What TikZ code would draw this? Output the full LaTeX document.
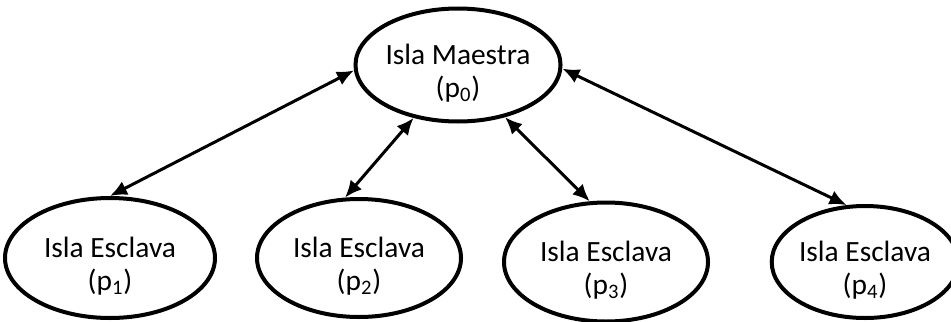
\documentclass[tikz,border=0pt]{standalone}
\usepackage{fontspec}
\setmainfont{Carlito}
\usetikzlibrary{shapes.geometric,arrows.meta}
\tikzset{
	isla/.style={ellipse, draw, line width=2pt, inner sep=0pt, align=center, text height=35pt,
		font=\fontsize{14.7}{16.5}\selectfont},
	enlace/.style={{Latex[length=8.5pt,width=7.5pt]}-{Latex[length=8.5pt,width=7.5pt]}, line width=1.5pt}
}
\begin{document}
\begin{tikzpicture}[x=0.5pt, y=-0.5pt]
	\useasboundingbox (0,0) rectangle (951,321);
	% maestra
	\node[isla, minimum width=102pt, minimum height=56.5pt] (p0) at (458,65) {Isla Maestra\\(p\textsubscript{0})};
	% esclavas
	\node[isla, minimum width=105pt, minimum height=60pt] (p1) at (110,258) {Isla Esclava\\(p\textsubscript{1})};
	\node[isla, minimum width=102pt, minimum height=59pt] (p2) at (359,258) {Isla Esclava\\(p\textsubscript{2})};
	\node[isla, minimum width=102pt, minimum height=59.5pt] (p3) at (606,262) {Isla Esclava\\(p\textsubscript{3})};
	\node[isla, minimum width=84pt, minimum height=56pt] (p4) at (865,262) {Isla Esclava\\(p\textsubscript{4})};
	% enlaces
	\draw[enlace] (p0.183) -- (p1.north);
	\draw[enlace] (p0.230) -- (p2.103);
	\draw[enlace] (p0.312) -- (p3.105);
	\draw[enlace] (p0.358) -- (p4.108);
\end{tikzpicture}
\end{document}
